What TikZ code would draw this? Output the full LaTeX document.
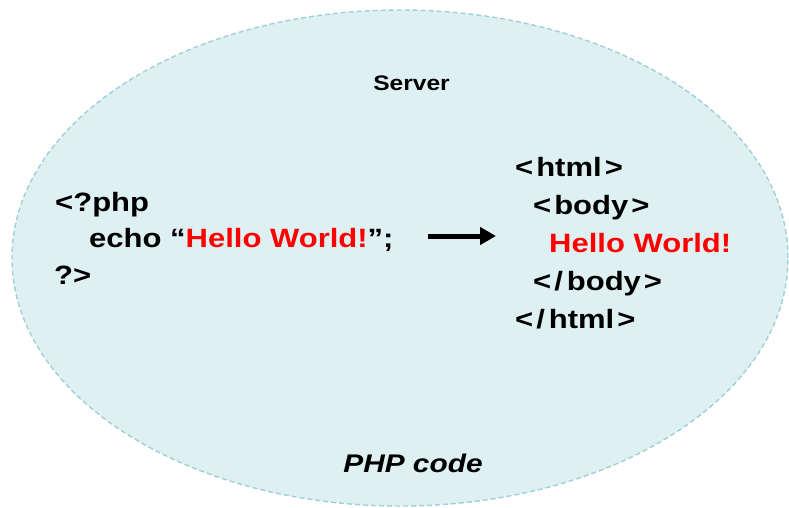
\documentclass[tikz,border=0pt]{standalone}
\usepackage{fontspec}
\setmainfont{Liberation Sans}
\newfontfamily\codefont[FakeStretch=1.17]{Liberation Sans}
\usetikzlibrary{arrows.meta,shapes.geometric}
\definecolor{serverfill}{RGB}{222,240,242}
\definecolor{serverline}{RGB}{160,208,214}
\definecolor{hellored}{RGB}{255,0,0}
% tag delimiters with the looser spacing used in the markup
\newcommand\tagopen{<\kern3pt}
\newcommand\tagslash{/\kern4pt}
\newcommand\tagclose{\kern3pt>}
\tikzset{
  codeline/.style={anchor=base west, inner sep=0pt, font=\codefont\bfseries\fontsize{26.5}{30}\selectfont},
  caption/.style={anchor=base, inner sep=0pt, font=\codefont\bfseries\fontsize{21}{24}\selectfont},
  flow/.style={line width=5pt, -{Triangle[length=16pt,width=17pt]}}
}
\begin{document}
\begin{tikzpicture}[x=1pt,y=-1pt]
  \useasboundingbox (0,0) rectangle (789,508);
  % server boundary
  \node (server) [ellipse, minimum width=776pt, minimum height=496pt, inner sep=0pt,
        fill=serverfill, draw=serverline, line width=1.4pt, dash pattern=on 5pt off 3pt]
        at (400,258) {};
  \node (title) [caption] at (411.5,91) {Server};
  % PHP source
  \node (php1) [codeline] at (55,211) {<?php};
  \node (php2) [codeline] at (89,247) {echo “\textcolor{hellored}{Hello World!}”;};
  \node (php3) [codeline] at (54,284) {?>};
  % generated HTML
  \node (h1) [codeline] at (515,176) {\tagopen html\tagclose};
  \node (h2) [codeline] at (533,214) {\tagopen body\tagclose};
  \node (h3) [codeline, text=hellored] at (549,252) {Hello World!};
  \node (h4) [codeline] at (533,290) {\tagopen\tagslash body\tagclose};
  \node (h5) [codeline] at (515,328) {\tagopen\tagslash html\tagclose};
  % transformation arrow
  \coordinate (arrA) at (428,236);
  \coordinate (arrB) at (496,236);
  \draw[flow] (arrA) -- (arrB);
  \node (label) [anchor=base, inner sep=0pt, font=\codefont\bfseries\itshape\fontsize{25.5}{30}\selectfont] at (413,472) {PHP code};
\end{tikzpicture}
\end{document}
